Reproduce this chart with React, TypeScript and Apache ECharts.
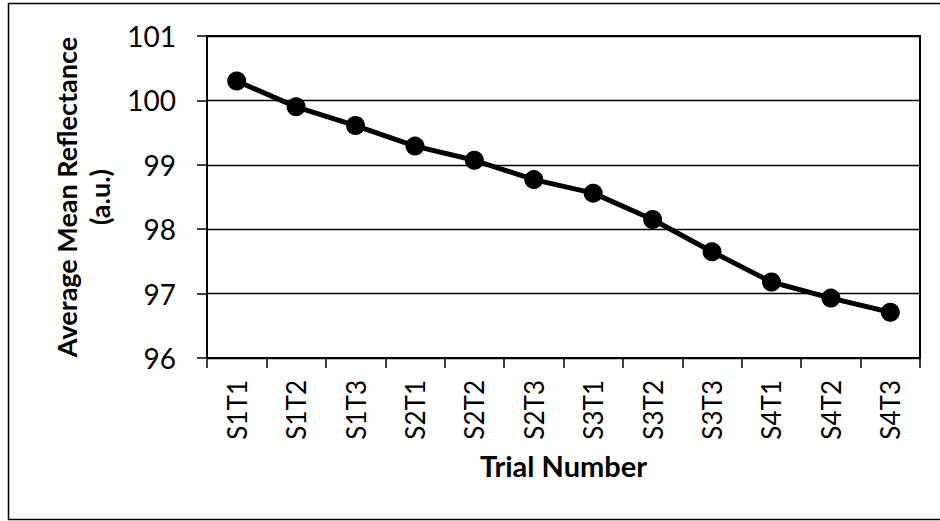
import React, { useEffect, useRef } from "react";
import * as echarts from "echarts";

const categories = ["S1T1", "S1T2", "S1T3", "S2T1", "S2T2", "S2T3", "S3T1", "S3T2", "S3T3", "S4T1", "S4T2", "S4T3"];
const reflectance = [100.3, 99.9, 99.61, 99.29, 99.07, 98.77, 98.56, 98.15, 97.65, 97.18, 96.93, 96.71];
const yMin = 96;
const yMax = 101;
const yInterval = 1;
const xTitle = "Trial Number";
const yTitle = "Average Mean Reflectance\n(a.u.)";

const FONT = "Lato, 'Open Sans', sans-serif";

export default function App() {
  const ref = useRef<HTMLDivElement>(null);
  useEffect(() => {
    if (!ref.current) return;
    const chart = echarts.init(ref.current, null, { renderer: "svg" });
    chart.setOption({
      animation: false,
      backgroundColor: "#fff",
      textStyle: { fontFamily: FONT },
      graphic: [
        {
          type: "rect",
          shape: { x: 8.5, y: 3.5, width: 960, height: 516 },
          style: { fill: "none", stroke: "#000", lineWidth: 1.5 },
          silent: true,
        },
      ],
      grid: {
        left: 207,
        top: 36,
        right: 20,
        bottom: 163,
        show: true,
        borderColor: "#000",
        borderWidth: 2,
        containLabel: false,
      },
      xAxis: {
        type: "category",
        data: categories,
        boundaryGap: true,
        name: xTitle,
        nameLocation: "middle",
        nameGap: 93,
        nameTextStyle: { fontFamily: FONT, fontSize: 29, fontWeight: "bold", color: "#000" },
        axisLine: { show: true, lineStyle: { color: "#000", width: 2 } },
        axisTick: { show: true, inside: false, length: 10, alignWithLabel: false, lineStyle: { color: "#000", width: 1.5 } },
        axisLabel: { rotate: 90, margin: 22, fontFamily: FONT, fontSize: 26, color: "#000" },
        splitLine: { show: false },
      },
      yAxis: {
        type: "value",
        min: yMin,
        max: yMax,
        interval: yInterval,
        name: yTitle,
        nameLocation: "middle",
        nameRotate: 90,
        nameGap: 88,
        nameTextStyle: { fontFamily: FONT, fontSize: 27, fontWeight: "bold", color: "#000", lineHeight: 33 },
        axisLine: { show: true, lineStyle: { color: "#000", width: 2 } },
        axisTick: { show: true, inside: false, length: 10, lineStyle: { color: "#000", width: 1.5 } },
        axisLabel: { margin: 31, fontFamily: FONT, fontSize: 28, color: "#000" },
        splitLine: { show: true, lineStyle: { color: "#000", width: 1.3 } },
      },
      series: [
        {
          type: "line",
          data: reflectance,
          symbol: "circle",
          symbolSize: 19,
          itemStyle: { color: "#000" },
          lineStyle: { color: "#000", width: 5 },
        },
      ],
    });
    return () => chart.dispose();
  }, []);
  return (
    <div
      ref={ref}
      style={{ position: "absolute", left: 0, top: 0, width: 940, height: 521 }}
    />
  );
}
